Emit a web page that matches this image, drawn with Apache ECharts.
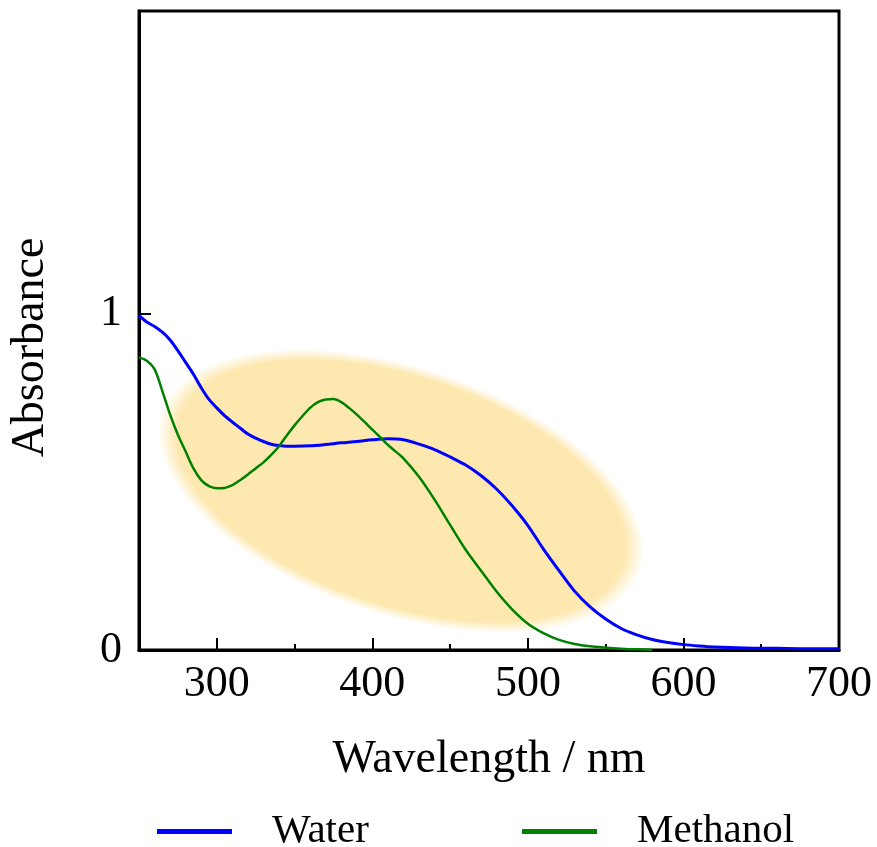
<!DOCTYPE html>
<html>
<head>
<meta charset="utf-8">
<script src="https://cdn.jsdelivr.net/npm/echarts@6/dist/echarts.min.js"></script>
<style>html,body{margin:0;padding:0;background:#fff}#c{width:877px;height:847px}</style>
</head>
<body>
<div id="c"></div>
<script>
// Data
const waterWl = [250,255,260,265,270,275,280,285,290,295,300,305,310,315,320,325,330,335,340,345,350,360,370,380,390,400,410,420,430,440,450,460,470,480,490,500,510,520,530,540,550,560,570,580,590,600,610,620,640,660,680,700];
const waterAbs = [0.995,0.975,0.962,0.945,0.922,0.89,0.855,0.82,0.78,0.745,0.72,0.697,0.678,0.66,0.642,0.63,0.62,0.612,0.608,0.606,0.606,0.607,0.611,0.616,0.62,0.625,0.628,0.625,0.612,0.596,0.574,0.55,0.518,0.478,0.428,0.37,0.3,0.236,0.175,0.128,0.092,0.064,0.045,0.031,0.022,0.016,0.012,0.009,0.006,0.005,0.004,0.004];
const methWl = [250,255,260,265,270,275,280,285,290,295,300,305,310,315,320,325,330,335,340,345,350,355,360,365,370,375,380,385,390,395,400,405,410,415,420,430,440,450,460,470,480,490,500,510,520,530,540,550,560,570,580];
const methAbs = [0.87,0.86,0.835,0.77,0.7,0.64,0.59,0.54,0.505,0.487,0.481,0.482,0.49,0.505,0.522,0.54,0.558,0.58,0.606,0.638,0.668,0.695,0.72,0.737,0.745,0.746,0.737,0.72,0.70,0.678,0.655,0.633,0.61,0.59,0.57,0.515,0.447,0.372,0.298,0.235,0.173,0.12,0.078,0.05,0.03,0.018,0.011,0.007,0.004,0.002,0.001];
const xLabelValues = [300,400,500,600,700];
const xMajorTicks = [300,400,500,600];
const xMinorTicks = [350,450,550,650];
const yLabelValues = [0,1];
const seriesNames = ['Water','Methanol'];
// Highlight ellipse centre in data coordinates
const ellipseCenter = [418.4, 0.473];

const FONT = 'Liberation Serif';
const chart = echarts.init(document.getElementById('c'), null, {renderer:'canvas'});
const zip = (a,b)=>a.map((v,i)=>[v,b[i]]);

const option = {
  animation:false,
  backgroundColor:'#fff',
  grid:{left:136,right:38,top:11,bottom:197,show:true,borderColor:'#000',borderWidth:3,backgroundColor:'transparent',z:3},
  xAxis:[{
    type:'value',min:250,max:700,
    axisLine:{show:true,onZero:false,lineStyle:{color:'#000',width:3}},
    axisTick:{show:true,inside:true,length:12,lineStyle:{color:'#000',width:2},customValues:xMajorTicks},
    axisLabel:{show:true,customValues:xLabelValues,fontFamily:FONT,fontSize:44,color:'#000',margin:12},
    splitLine:{show:false},
    name:'Wavelength / nm',nameLocation:'middle',nameGap:87,
    nameTextStyle:{fontFamily:FONT,fontSize:46,color:'#000'}
  },{
    type:'value',min:250,max:700,position:'bottom',gridIndex:0,
    axisLine:{show:false,onZero:false},
    axisTick:{show:true,inside:true,length:6,lineStyle:{color:'#000',width:2},customValues:xMinorTicks},
    axisLabel:{show:false},splitLine:{show:false}
  }],
  yAxis:{
    type:'value',min:0,max:1.9,
    axisLine:{show:true,onZero:false,lineStyle:{color:'#000',width:3}},
    axisTick:{show:true,inside:true,length:12,lineStyle:{color:'#000',width:2},customValues:[1]},
    axisLabel:{show:true,customValues:yLabelValues,fontFamily:FONT,fontSize:44,color:'#000',margin:17},
    splitLine:{show:false},
    name:'Absorbance',nameLocation:'middle',nameGap:85,nameRotate:90,
    nameTextStyle:{fontFamily:FONT,fontSize:46,color:'#000',padding:[0,34,0,0]}
  },
  legend:[{
    data:[seriesNames[0]],left:152,top:806,icon:'rect',itemWidth:75,itemHeight:5,
    textStyle:{fontFamily:FONT,fontSize:41,color:'#000',padding:[0,0,0,35]}
  },{
    data:[seriesNames[1]],left:517,top:806,icon:'rect',itemWidth:75,itemHeight:5,
    textStyle:{fontFamily:FONT,fontSize:41,color:'#000',padding:[0,0,0,35]}
  }],
  series:[{
    name:seriesNames[0],type:'line',data:zip(waterWl,waterAbs),showSymbol:false,smooth:0.3,
    lineStyle:{color:'#0000ff',width:3},itemStyle:{color:'#0000ff'},z:5
  },{
    name:seriesNames[1],type:'line',data:zip(methWl,methAbs),showSymbol:false,smooth:0.3,
    lineStyle:{color:'#008000',width:2.5},itemStyle:{color:'#008000'},z:5
  }]
};
chart.setOption(option);

const c = chart.convertToPixel({gridIndex:0}, ellipseCenter);
const fill = '#fde8b0';
chart.setOption({
  graphic:[{
    type:'circle',
    shape:{cx:0,cy:0,r:100},
    x:c[0],y:c[1],
    scaleX:2.53,scaleY:1.24,
    rotation:-18.2*Math.PI/180,
    silent:true,z:1,
    style:{fill:new echarts.graphic.RadialGradient(0.5,0.5,0.5,[
      {offset:0,color:fill},{offset:0.92,color:fill},{offset:1,color:'rgba(253,232,176,0)'}])}
  }]
});
</script>
</body>
</html>
